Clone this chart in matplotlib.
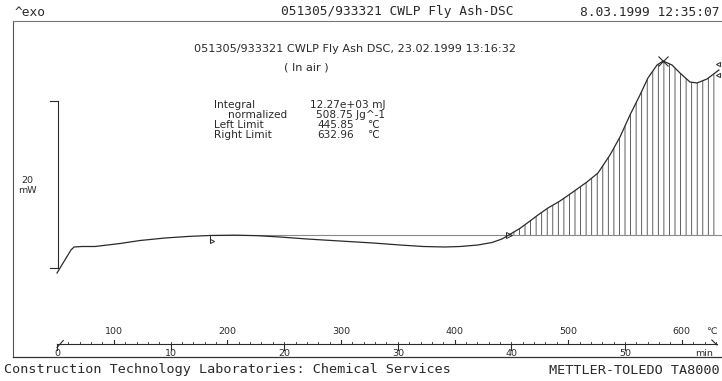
import numpy as np
import matplotlib.pyplot as plt

# DSC trace: time (min) and heat flow (mW, relative to the integration baseline)
time_min = np.array([0.00, 1.23, 1.50, 2.20, 3.35, 5.55, 7.31, 9.51, 11.71, 13.47,
                     15.67, 17.61, 19.63, 22.01, 24.91, 27.82, 30.19, 32.22, 34.15, 35.48,
                     37.06, 38.29, 39.17, 39.70, 40.76, 41.64, 42.34, 43.22, 44.28, 45.42,
                     46.65, 47.62, 48.68, 49.56, 50.44, 51.32, 52.02, 52.82, 53.35, 54.14,
                     54.84, 55.72, 56.34, 57.22, 58.27])
heat_flow = np.array([-4.50, -1.74, -1.38, -1.32, -1.32, -0.96, -0.60, -0.30, -0.10, 0.00,
                      0.04, -0.02, -0.18, -0.42, -0.66, -0.90, -1.14, -1.32, -1.38, -1.32,
                      -1.14, -0.84, -0.42, 0.00, 0.86, 1.74, 2.46, 3.30, 4.14, 5.22,
                      6.42, 7.50, 9.66, 11.82, 14.46, 16.86, 18.90, 20.46, 20.94, 20.46,
                      19.50, 18.42, 18.30, 18.78, 19.86])

temp_ticks = [100, 200, 300, 400, 500, 600]
time_ticks = [0, 10, 20, 30, 40, 50]
start_temp = 50.0      # degC at t = 0
heating_rate = 10.0    # K/min
left_limit = 445.85
right_limit = 632.96
integral_mj = 12.27e3
normalized = 508.75
baseline_start = 13.5  # min
scale_bar = 20         # mW

W, H = 722, 381
INK = '#2a2a2a'
plt.rcParams['hatch.linewidth'] = 0.6
plt.rcParams['hatch.color'] = '#444444'

fig = plt.figure(figsize=(W / 100, H / 100), dpi=100)
ax = fig.add_axes([0, 0, 1, 1])
ax.set_xlim(-5.018, 58.54)
ax.set_ylim(-17.46, 28.26)
ax.axis('off')


def fx(x):
    return x / W


def fy(y):
    return 1 - y / H


def t_of(T):
    return (T - start_temp) / heating_rate


xt = ax.get_xaxis_transform()   # x data, y fraction
yt = ax.get_yaxis_transform()   # x fraction, y data
mono = 'DejaVu Sans Mono'

# frame
ax.plot([fx(13), fx(13)], [fy(21), fy(357)], color='#555', lw=0.8, transform=ax.transAxes)
ax.plot([fx(13), 1], [fy(21), fy(21)], color='#777', lw=0.8, transform=ax.transAxes)
ax.plot([fx(13), 1], [fy(357), fy(357)], color='#333', lw=0.9, transform=ax.transAxes)

# header / footer
fig.text(fx(15), fy(12), '^exo', fontsize=9.3, family=mono, ha='left', va='center', color=INK)
fig.text(fx(397), fy(12), '051305/933321 CWLP Fly Ash-DSC', fontsize=9.3, family=mono,
         ha='center', va='center', color=INK)
fig.text(fx(720), fy(12), '8.03.1999 12:35:07', fontsize=9.3, family=mono,
         ha='right', va='center', color=INK)
fig.text(fx(4), fy(370), 'Construction Technology Laboratories: Chemical Services',
         fontsize=9.7, family=mono, ha='left', va='center', color=INK)
fig.text(fx(720), fy(370), 'METTLER-TOLEDO TA8000', fontsize=9.7, family=mono,
         ha='right', va='center', color=INK)

# title block
fig.text(fx(355), fy(49), '051305/933321 CWLP Fly Ash DSC, 23.02.1999 13:16:32',
         fontsize=8.1, ha='center', va='center', color=INK)
fig.text(fx(306), fy(68), '( In air )', fontsize=8.1, ha='center', va='center', color=INK)

fs = 7.6
rows = [(105, 'Integral', 214, f'{integral_mj / 1e3:.2f}e+03 mJ', None),
        (115, 'normalized', 228, f'{normalized:.2f} Jg^-1', None),
        (125, 'Left Limit', 214, f'{left_limit:.2f}', '℃'),
        (135, 'Right Limit', 214, f'{right_limit:.2f}', '℃')]
for y, lab, x0, val, unit in rows:
    fig.text(fx(x0), fy(y), lab, fontsize=fs, ha='left', va='center', color=INK)
    if unit:
        fig.text(fx(354), fy(y), val, fontsize=fs, ha='right', va='center', color=INK)
        fig.text(fx(374), fy(y), unit, fontsize=fs, ha='center', va='center', color=INK)
    else:
        fig.text(fx(385), fy(y), val, fontsize=fs, ha='right', va='center', color=INK)

# scale bar
base = -3.9
ax.plot([fx(58), fx(58)], [base, base + scale_bar], color=INK, lw=0.8, transform=yt)
for v in (base, base + scale_bar):
    ax.plot([fx(50), fx(58)], [v, v], color=INK, lw=0.8, transform=yt)
fig.text(fx(27), fy(180), f'{scale_bar}', fontsize=6.8, ha='center', va='center', color=INK)
fig.text(fx(27), fy(190), 'mW', fontsize=6.8, ha='center', va='center', color=INK)

# curve, baseline and integrated area
t_left, t_right = t_of(left_limit), t_of(right_limit)
ax.plot([baseline_start, 58.54], [0, 0], color='#8a8a8a', lw=0.8)
ax.fill_between(time_min, heat_flow, 0, where=time_min >= t_left, interpolate=True,
                facecolor='none', edgecolor='#444444', hatch='|||', linewidth=0)
ax.plot(time_min, heat_flow, color=INK, lw=0.9)

# markers
ax.plot([baseline_start, baseline_start], [0, -0.8], color=INK, lw=0.7)
ax.plot(baseline_start + 0.15, -0.65, marker='>', ms=3, mfc='none', mec=INK, mew=0.7)
ax.plot(t_left + 0.2, 0.0, marker='>', ms=4, mfc='none', mec=INK, mew=0.7)
ipk = int(np.argmax(heat_flow))
ax.plot(time_min[ipk], heat_flow[ipk], marker='x', ms=7, mec=INK, mew=0.8)
ax.plot(t_right - 0.15, heat_flow[-1] + 0.75, marker='<', ms=3, mfc='none', mec=INK, mew=0.7)
ax.plot(t_right - 0.15, heat_flow[-1] - 0.55, marker='<', ms=3, mfc='none', mec=INK, mew=0.7)

# temperature / time axis
t_end = t_right - 0.2
ax.plot([0, t_end], [fy(344), fy(344)], color=INK, lw=0.8, transform=xt)
ax.plot([0, 0.55], [fy(347.5), fy(340.5)], color=INK, lw=0.8, transform=xt)
ax.plot([t_end - 0.45, t_end], [fy(340), fy(345)], color=INK, lw=0.8, transform=xt)
for T in np.arange(60, right_limit, 10):
    ax.plot([t_of(T)] * 2, [fy(344), fy(342)], color=INK, lw=0.6, transform=xt)
for T in temp_ticks:
    ax.plot([t_of(T)] * 2, [fy(344), fy(339.5)], color=INK, lw=0.8, transform=xt)
    ax.text(t_of(T), fy(332), f'{T}', fontsize=6.8, ha='center', va='center', color=INK, transform=xt)
for m in time_ticks:
    ax.plot([m, m], [fy(344), fy(350)], color=INK, lw=0.8, transform=xt)
    ax.text(m, fy(353), f'{m}', fontsize=6.8, ha='center', va='center', color=INK, transform=xt)
fig.text(fx(711), fy(332), '℃', fontsize=6.8, ha='center', va='center', color=INK)
fig.text(fx(704), fy(353), 'min', fontsize=6.8, ha='center', va='center', color=INK)

fig.savefig('out.png', dpi=100)
